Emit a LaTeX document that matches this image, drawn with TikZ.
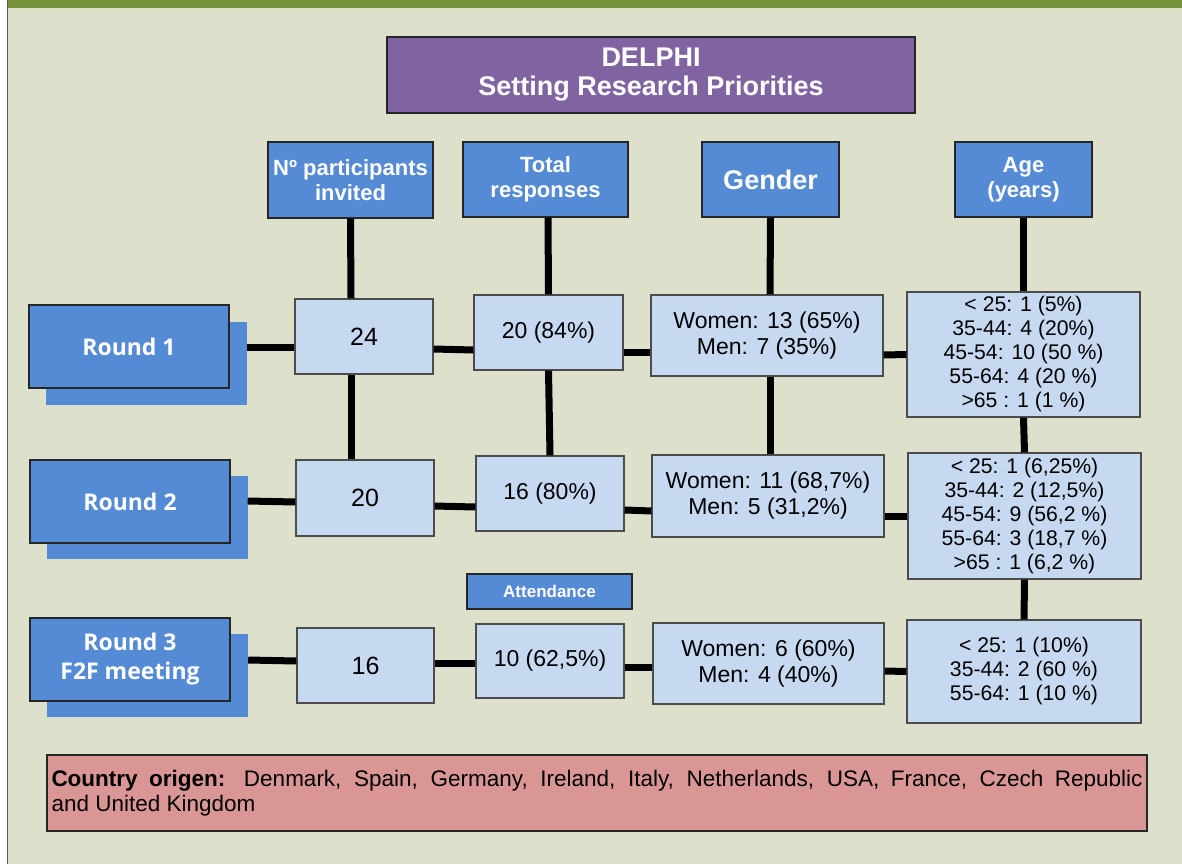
\documentclass[tikz,border=0pt]{standalone}
\usepackage{fontspec}
\setmainfont{Liberation Sans}
\newfontfamily\roundfont{Open Sans}
\definecolor{panelbg}{HTML}{DDE1CB}
\definecolor{topbar}{HTML}{77933C}
\definecolor{hdrblue}{HTML}{558AD5}
\definecolor{cellblue}{HTML}{C6D9F1}
\definecolor{titlepurple}{HTML}{8064A2}
\definecolor{countryred}{HTML}{D99694}
\newcommand\setfs[2]{\fontsize{#1}{#2}\selectfont}

\begin{document}
\begin{tikzpicture}[x=1pt, y=-1pt]
\tikzstyle{box}=[draw=black!85, line width=1.2pt, inner sep=0pt, align=center]
\tikzstyle{hdr}=[box, fill=hdrblue, text=white, font=\bfseries\setfs{22}{25}]
\tikzstyle{cell}=[box, fill=cellblue, draw=black!70, font=\setfs{23}{26}]
\tikzstyle{agecell}=[cell, minimum width=233pt, font=\setfs{21.2}{24}]
\tikzstyle{roundbox}=[box, fill=hdrblue, minimum width=200pt, minimum height=83pt, text=white, font=\roundfont\bfseries\setfs{23}{29}]
\tikzstyle{shadowbox}=[fill=hdrblue, minimum width=201pt, minimum height=83pt, inner sep=0pt]
\tikzstyle{link}=[line width=7pt]
\useasboundingbox (0,0) rectangle (1182,864);
% page
\fill[white] (0,0) rectangle (1182,864);
\fill[panelbg] (8,0) rectangle (1182,864);
\fill[topbar] (8,0) rectangle (1182,8);
\draw[black!65, line width=1.5pt] (7.5,0) -- (7.5,864);
% title and column heads
\node [box, fill=titlepurple, text=white, minimum width=528pt, minimum height=76pt,
  font=\bfseries\setfs{27}{29}] (title) at (651,75) {DELPHI\\Setting Research Priorities};
\node [hdr, minimum width=165pt, minimum height=76pt] (hInv) at (350.5,180) {Nº participants\\invited};
\node [hdr, minimum width=165pt, minimum height=75pt] (hTot) at (545.5,179.5) {Total\\responses};
\node [hdr, minimum width=137pt, minimum height=75pt, font=\bfseries\setfs{27}{29}] (hGen) at (770.5,179.5) {Gender};
\node [hdr, minimum width=137pt, minimum height=75pt] (hAge) at (1023.5,179.5) {Age\\(years)};
% rounds
\node [shadowbox] (r1sh) at (146.5,363) {};
\node [roundbox] (r1) at (129,346.5) {Round 1};
\node [shadowbox] (r2sh) at (147,517) {};
\node [roundbox] (r2) at (130,501.5) {Round 2};
\node [shadowbox] (r3sh) at (147.5,675.5) {};
\node [roundbox] (r3) at (130,659.5) {Round 3\\F2F meeting};
% round 1
\node [cell, minimum width=138pt, minimum height=75pt, font=\setfs{25}{28}] (inv1) at (364,336.5) {24};
\node [cell, minimum width=149pt, minimum height=75pt] (tot1) at (548.5,332.5) {20 (84\%)};
\node [cell, minimum width=232pt, minimum height=81pt] (gen1) at (767,335.5) {Women: 13 (65\%)\\Men: 7 (35\%)};
\node [agecell, minimum height=125pt] (age1) at (1023.5,354.5)
  {< 25: 1 (5\%)\\35-44: 4 (20\%)\\45-54: 10 (50 \%)\\55-64: 4 (20 \%)\\>65 : 1 (1 \%)};
% round 2
\node [cell, minimum width=138pt, minimum height=76pt, font=\setfs{25}{28}] (inv2) at (365,498) {20};
\node [cell, minimum width=148pt, minimum height=75pt] (tot2) at (550,493.5) {16 (80\%)};
\node [cell, minimum width=232pt, minimum height=82pt] (gen2) at (768,496) {Women: 11 (68,7\%)\\Men: 5 (31,2\%)};
\node [agecell, minimum height=126pt] (age2) at (1024.5,516)
  {< 25: 1 (6,25\%)\\35-44: 2 (12,5\%)\\45-54: 9 (56,2 \%)\\55-64: 3 (18,7 \%)\\>65 : 1 (6,2 \%)};
% round 3
\node [hdr, minimum width=165pt, minimum height=35pt, font=\bfseries\setfs{17}{19}] (attend) at (549.5,591.5) {Attendance};
\node [cell, minimum width=137pt, minimum height=75pt, font=\setfs{25}{28}] (inv3) at (365.5,665.5) {16};
\node [cell, minimum width=148pt, minimum height=74pt] (tot3) at (550,661) {10 (62,5\%)};
\node [cell, minimum width=231pt, minimum height=81pt] (gen3) at (768.5,663.5) {Women: 6 (60\%)\\Men: 4 (40\%)};
\node [agecell, minimum width=234pt, minimum height=103pt] (age3) at (1024,671.5)
  {< 25: 1 (10\%)\\35-44: 2 (60 \%)\\55-64: 1 (10 \%)};
% countries
\node [draw=black!85, line width=1.2pt, fill=countryred, text width=1091pt, inner xsep=4.5pt, inner ysep=0pt,
  minimum height=76pt, align=justify, font=\setfs{22.5}{25}] (country) at (597,793)
  {\textbf{Country origen:} Denmark, Spain, Germany, Ireland, Italy, Netherlands, USA, France, Czech Republic\linebreak and United Kingdom};
% links
\draw[link] ([yshift=16pt]r1sh.east) -- ([yshift=-10.5pt]inv1.west);
\draw[link] ([yshift=-12.5pt]inv1.east) -- ([yshift=-17.5pt]tot1.west);
\draw[link] ([yshift=-19.5pt]tot1.east) -- ([yshift=-16.5pt]gen1.west);
\draw[link] ([yshift=-19.5pt]gen1.east) -- (age1.west);
\draw[link] ([yshift=16pt]r2sh.east) -- ([yshift=-4pt]inv2.west);
\draw[link] ([yshift=-8pt]inv2.east) -- ([yshift=-13.5pt]tot2.west);
\draw[link] ([yshift=-16.5pt]tot2.east) -- ([yshift=-15pt]gen2.west);
\draw[link] ([yshift=-20pt]gen2.east) -- (age2.west);
\draw[link] ([yshift=15.5pt]r3sh.east) -- ([yshift=4.5pt]inv3.west);
\draw[link] ([yshift=2.5pt]inv3.east) -- ([yshift=-2pt]tot3.west);
\draw[link] ([yshift=-6pt]tot3.east) -- ([yshift=-3.5pt]gen3.west);
\draw[link] ([yshift=-7.5pt]gen3.east) -- (age3.west);
\draw[link] (hInv.south) -- ([xshift=-13pt]inv1.north);
\draw[link] ([xshift=-13pt]inv1.south) -- ([xshift=-14pt]inv2.north);
\draw[link] ([xshift=2.5pt]hTot.south) -- (tot1.north);
\draw[link] (tot1.south) -- (tot2.north);
\draw[link] (hGen.south) -- ([xshift=3pt]gen1.north);
\draw[link] ([xshift=3pt]gen1.south) -- ([xshift=2pt]gen2.north);
\draw[link] (hAge.south) -- (age1.north);
\draw[link] (age1.south) -- (age2.north);
\draw[link] (age2.south) -- (age3.north);
\end{tikzpicture}
\end{document}
